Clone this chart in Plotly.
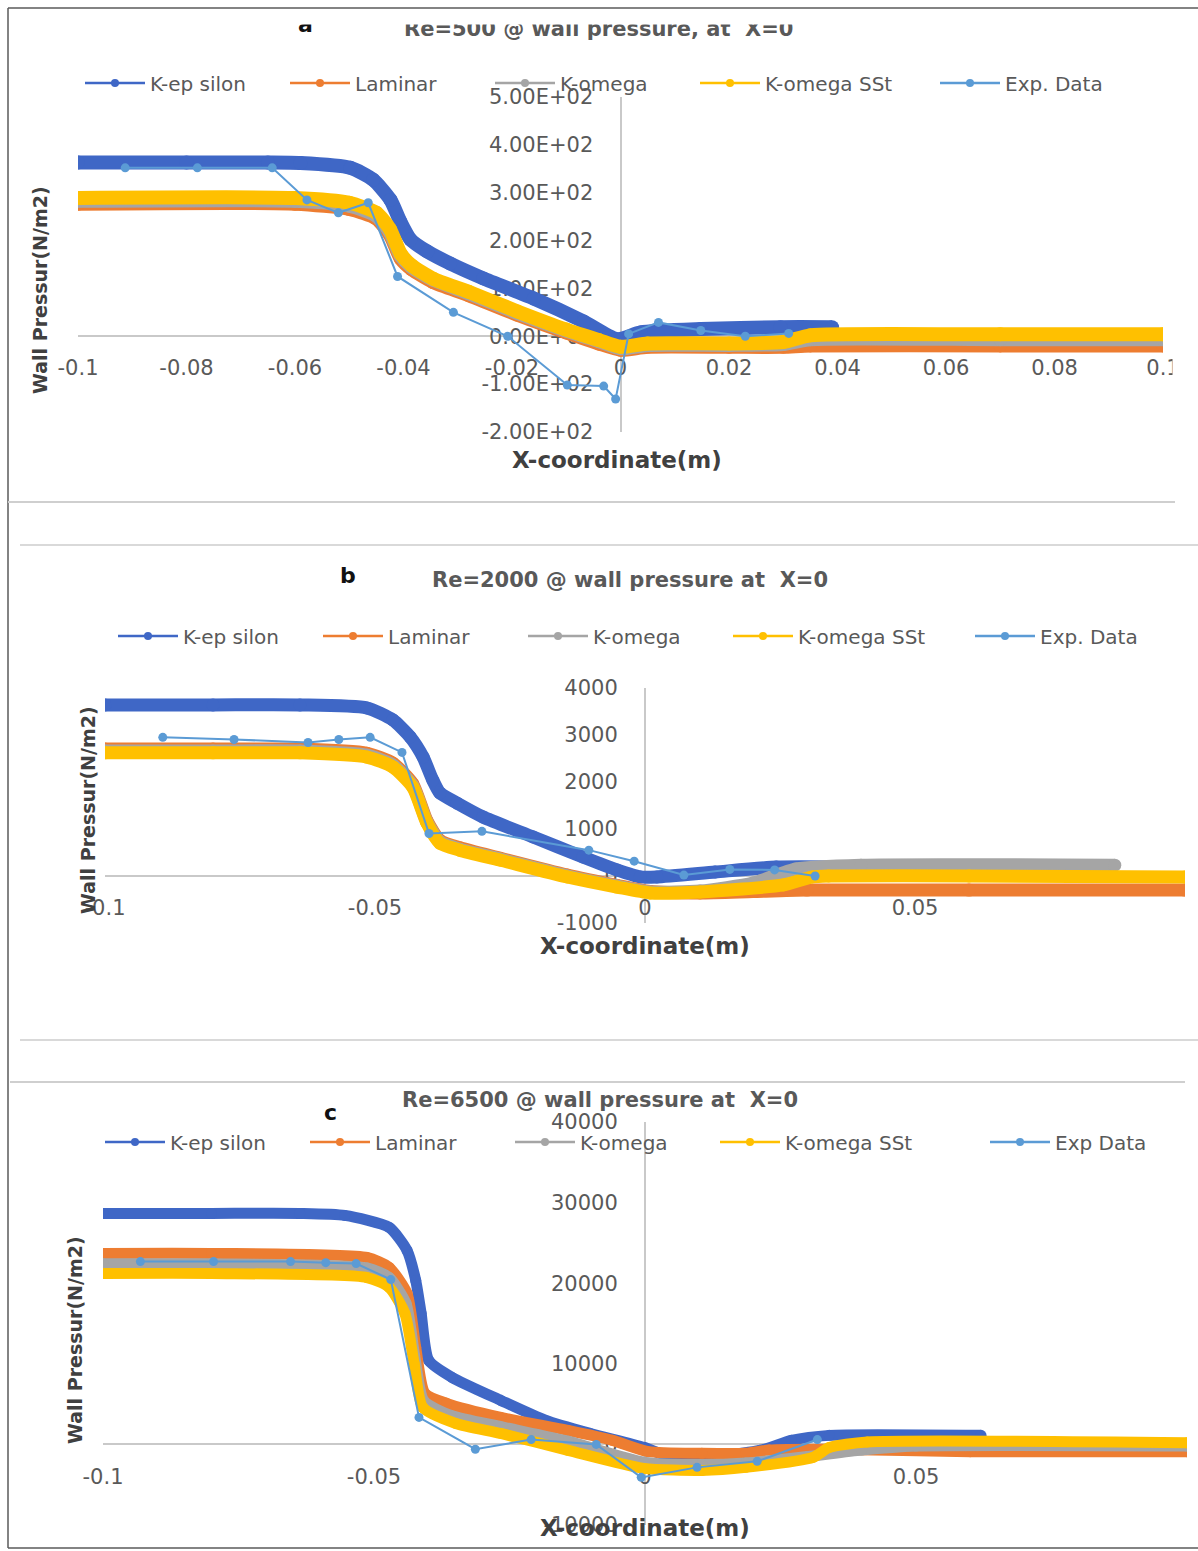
import plotly.graph_objects as go

W, H = 1198, 1551
FONT = "DejaVu Sans"
TICK_COLOR = "#595959"

# ---------------- series colours ----------------
C_KE = "#3F67C6"
C_LAM = "#ED7D31"
C_KW = "#A5A5A5"
C_SST = "#FFC000"
C_EXP = "#5B9BD5"

# ---------------- (a) Re = 500 ----------------
ke_a_x = [-0.1, -0.08, -0.065, -0.059, -0.0498, -0.0456, -0.0424, -0.0406, -0.0387, -0.0356,
          -0.0314, -0.0253, -0.016, -0.0068, -0.0006, 0.0037, 0.0148, 0.0295, 0.039]
ke_a_y = [363, 363, 363, 362, 352, 327, 285, 240, 202, 177, 152, 121, 79, 31, -6, 8, 15, 19, 19]

mod_a_x = [-0.1, -0.06, -0.05, -0.045, -0.0425, -0.0405, -0.0385, -0.0345, -0.028, -0.019,
           -0.01, -0.004, 0.0, 0.005, 0.02, 0.03, 0.035, 0.07, 0.1]
lam_a_y = [277, 277, 266, 246, 212, 162, 140, 113, 86, 45, 8, -15, -28, -22, -22, -22, -19, -19, -19]
kw_a_y = [283, 283, 273, 252, 218, 168, 145, 118, 90, 49, 12, -10, -25, -18, -18, -16, -6, -6, -6]
sst_a_y = [289, 289, 279, 258, 224, 172, 148, 120, 93, 52, 14, -8, -22, -15, -15, -12, 2, 4, 4]

exp_a_x = [-0.0913, -0.078, -0.0642, -0.0578, -0.052, -0.0465, -0.0411, -0.0308, -0.0208,
           -0.0098, -0.0031, -0.0009, 0.0015, 0.007, 0.0148, 0.023, 0.031]
exp_a_y = [352, 352, 352, 285, 258, 279, 125, 50, 0, -102, -104, -131, 5, 29, 12, 0, 6]

# ---------------- (b) Re = 2000 ----------------
ke_b_x = [-0.1, -0.08, -0.0639, -0.0515, -0.0467, -0.0435, -0.0411, -0.0393, -0.038, -0.0348,
          -0.03, -0.0207, -0.0115, -0.0052, -0.0009, 0.0022, 0.013, 0.0243, 0.0376]
ke_b_y = [3640, 3640, 3640, 3575, 3320, 2960, 2530, 2040, 1770, 1550, 1255, 830, 405, 130,
          -20, -20, 85, 190, 190]

lam_b_x = [-0.1, -0.08, -0.0639, -0.0515, -0.0467, -0.043, -0.0404, -0.038, -0.0343, -0.0269,
           -0.0144, -0.0052, 0.0009, 0.0102, 0.02, 0.03, 0.06, 0.1]
lam_b_y = [2700, 2700, 2700, 2610, 2400, 1960, 1180, 760, 600, 380, 20, -200, -330, -360,
           -330, -300, -300, -300]

kw_b_x = [-0.1, -0.08, -0.0639, -0.0515, -0.0467, -0.043, -0.0404, -0.038, -0.0343, -0.0269,
          -0.0144, -0.0052, 0.0009, 0.0102, 0.02, 0.028, 0.04, 0.087]
kw_b_y = [2660, 2660, 2660, 2570, 2360, 1920, 1150, 730, 570, 360, 0, -215, -340, -320,
          -150, 150, 230, 230]

sst_b_x = [-0.1, -0.08, -0.0639, -0.0515, -0.0467, -0.043, -0.0404, -0.038, -0.0343, -0.0269,
           -0.0144, -0.0052, 0.0009, 0.0102, 0.0256, 0.031, 0.034, 0.06, 0.1]
sst_b_y = [2620, 2620, 2620, 2530, 2320, 1890, 1130, 700, 550, 340, -20, -235, -360, -340,
           -190, -20, 0, 0, -20]

exp_b_x = [-0.0893, -0.0761, -0.0624, -0.0567, -0.0509, -0.045, -0.04, -0.0302, -0.0104,
           -0.002, 0.0072, 0.0157, 0.024, 0.0315]
exp_b_y = [2950, 2905, 2840, 2905, 2950, 2630, 905, 950, 550, 315, 20, 140, 130, 0]

# ---------------- (c) Re = 6500 ----------------
ke_c_x = [-0.1, -0.08, -0.0637, -0.0554, -0.0472, -0.0439, -0.0423, -0.0413, -0.0399, -0.0356,
          -0.0266, -0.0183, -0.0101, -0.0002, 0.0057, 0.0212, 0.027, 0.034, 0.062]
ke_c_y = [28660, 28660, 28660, 28410, 26920, 24070, 20350, 16250, 10420, 8310, 5460, 2980,
          1360, -370, -1740, -740, 500, 1120, 1120]

lam_c_x = [-0.1, -0.08, -0.0513, -0.0472, -0.0439, -0.0423, -0.0406, -0.0366, -0.0266, -0.0142,
           -0.006, 0.0006, 0.0105, 0.0186, 0.0229, 0.034, 0.06, 0.1]
lam_c_y = [23700, 23700, 23200, 21960, 18730, 12030, 6330, 5090, 3350, 1740, 500, -900,
           -1100, -1100, -700, -600, -900, -900]

kw_c_x = [-0.1, -0.08, -0.0513, -0.0472, -0.0441, -0.0425, -0.0408, -0.0358, -0.0266, -0.0142,
          -0.0002, 0.0105, 0.0186, 0.03, 0.04, 0.05, 0.1]
kw_c_y = [22400, 22400, 21900, 20700, 17500, 11000, 5400, 3600, 2200, 400, -2200, -2500,
          -2300, -1500, -700, -200, -200]

sst_c_x = [-0.1, -0.08, -0.0513, -0.0472, -0.0443, -0.0426, -0.041, -0.0349, -0.0266, -0.0142,
           -0.0002, 0.0105, 0.0186, 0.031, 0.034, 0.041, 0.1]
sst_c_y = [21200, 21200, 20700, 19480, 16250, 10050, 4590, 2600, 1360, -740, -2980, -3230,
           -2850, -1610, -370, 300, 200]

exp_c_x = [-0.0931, -0.0796, -0.0654, -0.0589, -0.0533, -0.0469, -0.0417, -0.0313, -0.021,
           -0.009, -0.0007, 0.0096, 0.0207, 0.0318]
exp_c_y = [22680, 22680, 22680, 22550, 22430, 20450, 3350, -600, 600, 0, -4090, -2850, -2100, 600]

# ---------------- tick labels ----------------
x_ticks_a = [-0.1, -0.08, -0.06, -0.04, -0.02, 0, 0.02, 0.04, 0.06, 0.08, 0.1]
x_text_a = ["-0.1", "-0.08", "-0.06", "-0.04", "-0.02", "0", "0.02", "0.04", "0.06", "0.08", "0.1"]
y_ticks_a = [500, 400, 300, 200, 100, 0, -100, -200]
y_text_a = ["5.00E+02", "4.00E+02", "3.00E+02", "2.00E+02", "1.00E+02", "0.00E+00",
            "-1.00E+02", "-2.00E+02"]

x_ticks_bc = [-0.1, -0.05, 0, 0.05, 0.1]
x_text_bc = ["-0.1", "-0.05", "0", "0.05", "0.1"]
y_ticks_b = [4000, 3000, 2000, 1000, 0, -1000]
y_text_b = ["4000", "3000", "2000", "1000", "0", "-1000"]
y_ticks_c = [40000, 30000, 20000, 10000, 0, -10000]
y_text_c = ["40000", "30000", "20000", "10000", "0", "-10000"]

model_names = ["K-ep silon", "Laminar", "K-omega", "K-omega SSt"]
exp_name_ab = "Exp. Data"
exp_name_c = "Exp Data"
model_colors = [C_KE, C_LAM, C_KW, C_SST]


def fx(px):
    return px / W


def fy(py):
    return 1 - py / H


fig = go.Figure()

panels = [
    # axis suffix, legends (models, measurements), simulated series, measured series, label, band
    ("", ("legend", "legend4"),
     [(ke_a_x, ke_a_y), (mod_a_x, lam_a_y), (mod_a_x, kw_a_y), (mod_a_x, sst_a_y)],
     (exp_a_x, exp_a_y), exp_name_ab, 14),
    ("2", ("legend2", "legend5"),
     [(ke_b_x, ke_b_y), (lam_b_x, lam_b_y), (kw_b_x, kw_b_y), (sst_b_x, sst_b_y)],
     (exp_b_x, exp_b_y), exp_name_ab, 13),
    ("3", ("legend3", "legend6"),
     [(ke_c_x, ke_c_y), (lam_c_x, lam_c_y), (kw_c_x, kw_c_y), (sst_c_x, sst_c_y)],
     (exp_c_x, exp_c_y), exp_name_c, 11),
]

for suffix, (leg_m, leg_e), model_series, exp_series, exp_name, band in panels:
    xa, ya = "x" + suffix, "y" + suffix
    # simulated series: dense marker bands
    for (xs, ys), col in zip(model_series, model_colors):
        fig.add_trace(go.Scatter(
            x=xs, y=ys, xaxis=xa, yaxis=ya, mode="lines+markers", showlegend=False,
            line=dict(color=col, width=band, shape="spline", smoothing=0.6),
            marker=dict(color=col, size=band),
        ))
    # experimental points
    fig.add_trace(go.Scatter(
        x=exp_series[0], y=exp_series[1], xaxis=xa, yaxis=ya, mode="lines+markers",
        showlegend=False, line=dict(color=C_EXP, width=2), marker=dict(color=C_EXP, size=9),
    ))
    # legend keys
    for name, col in zip(model_names, model_colors):
        fig.add_trace(go.Scatter(
            x=[None], y=[None], xaxis=xa, yaxis=ya, mode="lines+markers", name=name,
            legend=leg_m, line=dict(color=col, width=2.5), marker=dict(color=col, size=8),
        ))
    fig.add_trace(go.Scatter(
        x=[None], y=[None], xaxis=xa, yaxis=ya, mode="lines+markers", name=exp_name,
        legend=leg_e, line=dict(color=C_EXP, width=2.5), marker=dict(color=C_EXP, size=8),
    ))

tickfont = dict(family=FONT, size=21, color=TICK_COLOR)


def x_axis(left, right, zero_py, vals, text):
    return dict(domain=[fx(left), fx(right)], range=[-0.1, 0.1], anchor="free",
                position=fy(zero_py), showline=True, linecolor="#C9C9C9", linewidth=2,
                ticks="", showgrid=False, zeroline=False, tickvals=vals, ticktext=text,
                tickfont=tickfont, ticklabelstandoff=13, layer="below traces",
                fixedrange=True)


def y_axis(top, bottom, rng, zero_px, vals, text):
    return dict(domain=[fy(bottom), fy(top)], range=rng, anchor="free",
                position=fx(zero_px), showline=True, linecolor="#C9C9C9", linewidth=2,
                ticks="", showgrid=False, zeroline=False, tickvals=vals, ticktext=text,
                tickfont=tickfont, ticklabelstandoff=22, layer="below traces",
                fixedrange=True)


def zero_row(top, bottom, rng):
    lo, hi = rng
    return bottom - (0 - lo) / (hi - lo) * (bottom - top)


ra, rb, rc = [-200, 500], [-1000, 4000], [-10000, 40000]

fig.update_layout(
    xaxis=x_axis(78, 1163, zero_row(97, 432, ra), x_ticks_a, x_text_a),
    yaxis=y_axis(97, 432, ra, 620.5, y_ticks_a, y_text_a),
    xaxis2=x_axis(105, 1185, zero_row(688, 923, rb), x_ticks_bc, x_text_bc),
    yaxis2=y_axis(688, 923, rb, 645, y_ticks_b, y_text_b),
    xaxis3=x_axis(103, 1187, zero_row(1122, 1525, rc), x_ticks_bc, x_text_bc),
    yaxis3=y_axis(1122, 1525, rc, 645, y_ticks_c, y_text_c),
)

legend_font = dict(family=FONT, size=20, color=TICK_COLOR)
legend_spots = [("legend", 80, 83), ("legend2", 113, 636), ("legend3", 100, 1142),
                ("legend4", 935, 83), ("legend5", 970, 636), ("legend6", 985, 1142)]
for key, lx, ly in legend_spots:
    fig.update_layout({key: dict(orientation="h", x=fx(lx), y=fy(ly), xanchor="left",
                                 yanchor="middle", font=legend_font, bgcolor="rgba(0,0,0,0)",
                                 itemwidth=60, entrywidth=130, entrywidthmode="pixels")})

title_font = dict(family=FONT, size=21, color=TICK_COLOR)
axis_title_font = dict(family=FONT, size=23, color="#404040")
ytitle_font = dict(family=FONT, size=19, color="#404040")

annotations = []


def text(x, y, s, font, **kw):
    annotations.append(dict(x=fx(x), y=fy(y), xref="paper", yref="paper", text=s,
                            xanchor="center", yanchor="middle", showarrow=False,
                            font=font, **kw))


def cover(x0, y0, x1, y1):
    # blank white box: the panels are cropped at these edges
    annotations.append(dict(x=fx(x0), y=fy(y0), xref="paper", yref="paper", text=" ",
                            xanchor="left", yanchor="top", showarrow=False,
                            width=x1 - x0, height=y1 - y0, bgcolor="white", borderpad=0))


# panel titles and letters
text(598, 29, "<b>Re=500 @ wall pressure, at  X=0</b>", title_font)
text(305, 24, "<b>a</b>", dict(family=FONT, size=22, color="#111111"))
cover(10, 10, 1190, 23)
text(630, 580, "<b>Re=2000 @ wall pressure at  X=0</b>", title_font)
text(348, 575, "<b>b</b>", dict(family=FONT, size=22, color="#111111"))
text(600, 1100, "<b>Re=6500 @ wall pressure at  X=0</b>", title_font)
text(330, 1112, "<b>c</b>", dict(family=FONT, size=22, color="#111111"))

# axis titles
text(617, 460, "<b>X-coordinate(m)</b>", axis_title_font)
text(645, 946, "<b>X-coordinate(m)</b>", axis_title_font)
text(645, 1528, "<b>X-coordinate(m)</b>", axis_title_font)
text(40, 290, "<b>Wall Pressur(N/m2)</b>", ytitle_font, textangle=-90)
text(88, 810, "<b>Wall Pressur(N/m2)</b>", ytitle_font, textangle=-90)
text(75, 1340, "<b>Wall Pressur(N/m2)</b>", ytitle_font, textangle=-90)

# right edges of panels (a) and (c) are cropped
cover(1172, 350, 1197, 385)
cover(1189, 1462, 1197, 1495)

shapes = []


def hline(x0, x1, y, color, width):
    shapes.append(dict(type="line", xref="paper", yref="paper", x0=fx(x0), x1=fx(x1),
                       y0=fy(y), y1=fy(y), line=dict(color=color, width=width)))


# outer frame
hline(8, 1198, 8, "#5A5A5A", 1.5)
hline(8, 1198, 1548, "#5A5A5A", 1.5)
shapes.append(dict(type="line", xref="paper", yref="paper", x0=fx(8), x1=fx(8), y0=fy(8),
                   y1=fy(1548), line=dict(color="#5A5A5A", width=1.5)))
# separators between panels
hline(8, 1175, 502, "#CFCFCF", 2)
hline(20, 1198, 545, "#D9D9D9", 2)
hline(20, 1198, 1040, "#D9D9D9", 2)
hline(10, 1185, 1082, "#CFCFCF", 2)

fig.update_layout(
    width=W, height=H, margin=dict(l=0, r=0, t=0, b=0, autoexpand=False),
    paper_bgcolor="white", plot_bgcolor="rgba(0,0,0,0)",
    annotations=annotations, shapes=shapes,
)

fig.write_html("out.html")
